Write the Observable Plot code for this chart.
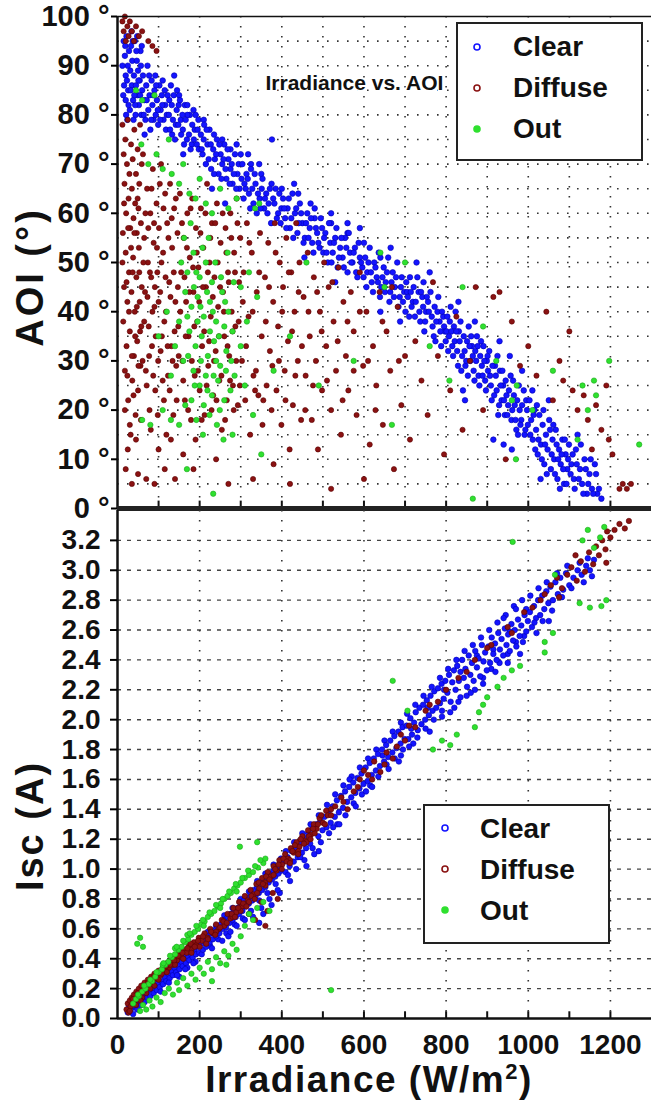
<!DOCTYPE html>
<html>
<head>
<meta charset="utf-8">
<script src="https://cdn.jsdelivr.net/npm/d3@7"></script>
<script src="https://cdn.jsdelivr.net/npm/@observablehq/plot@0.6"></script>
<style>
  html, body { margin: 0; padding: 0; background: #fff; }
  #wrap { position: relative; width: 651px; height: 1111px; overflow: hidden; font-family: "Liberation Sans", Arial, sans-serif; }
  #top, #bot { position: absolute; left: 0; }
  #top { top: 0; }
  #bot { top: 508px; }
  .lab { position: absolute; font-weight: bold; color: #111; white-space: nowrap; }
</style>
</head>
<body>
<div id="wrap">
  <div id="top"></div>
  <div id="bot"></div>
  <div class="lab" id="ylab1" style="font-size:38px;letter-spacing:3px;left:30px;top:277px;transform:translate(-50%,-50%) rotate(-90deg);">AOI (°)</div>
  <div class="lab" id="ylab2" style="font-size:38px;letter-spacing:2px;left:30px;top:826px;transform:translate(-50%,-50%) rotate(-90deg);">Isc (A)</div>
  <div class="lab" id="xlab" style="font-size:37px;letter-spacing:1.5px;left:369px;top:1080px;transform:translate(-50%,-50%);">Irradiance (W/m<sup style="font-size:22px;">2</sup>)</div>
  <svg id="legend" width="651" height="1111" style="position:absolute;left:0;top:0;pointer-events:none;"></svg>
</div>
<script>
// ---------- categories, colours, ticks ----------
const categories = ["Clear", "Diffuse", "Out"];
const colors = ["#1414ff", "#8a1212", "#2fe02f"];
const strokes = ["#0000b0", "#5a0000", "#1aa81a"];
const chartTitle = "Irradiance vs. AOI";
const xTickLabels = [0, 200, 400, 600, 800, 1000, 1200];
const xMinorTicks = [100, 200, 300, 400, 500, 600, 700, 800, 900, 1000, 1100, 1200];
const aoiTicks = [0, 10, 20, 30, 40, 50, 60, 70, 80, 90, 100];
const aoiGrid = [5, 10, 15, 20, 25, 30, 35, 40, 45, 50, 55, 60, 65, 70, 75, 80, 85, 90, 95];
const iscTicks = [0, 0.2, 0.4, 0.6, 0.8, 1.0, 1.2, 1.4, 1.6, 1.8, 2.0, 2.2, 2.4, 2.6, 2.8, 3.0, 3.2];
const iscGrid = [0.2, 0.4, 0.6, 0.8, 1.0, 1.2, 1.4, 1.6, 1.8, 2.0, 2.2, 2.4, 2.6, 2.8, 3.0, 3.2];

// ---------- top panel: [irradiance, AOI] ----------
const aoiClear = [
[15,95],[18,92],[20,88],[22,96],[25,90],[26,85],[28,93],[30,81],[31,89],[33,94],[35,86],[36,91],[38,83],[40,88],[42,95],[44,80],[45,86],[47,91],[49,84],[50,89],[52,82],[54,87],[56,93],[58,80],[60,85],[20,83],[24,79],[34,97],[12,90],[16,86],[43,82],[57,90],
[14,84],[19,94],[23,87],[27,82],[32,85],[37,95],[41,84],[46,93],[51,87],[55,84],[59,94],[21,80],[39,79],[48,96],
[62,88],[65,83],[68,79],[70,86],[73,90],[75,81],[78,84],[80,77],[83,87],[85,82],[88,79],[90,85],[93,80],[96,83],[99,78],[102,86],[105,81],[108,84],[112,79],[116,82],[118,77],[66,76],[92,88],[110,87],
[64,80],[71,83],[77,88],[82,79],[87,84],[94,86],[98,81],[104,79],[109,82],[115,85],[120,80],[126,83],[133,76],[137,84],[142,78],[149,82],[154,79],[159,77],[164,82],[169,75],[176,80],[181,74],[188,77],[193,74],[197,79],
[130,86],[150,84],[170,80],[185,81],[210,79],[235,76],[255,75],[275,73],[300,72],[325,70],[350,68],[375,66],[400,65],[440,64],[480,61],[520,58],[560,56],[600,54],[640,51],
[122,84],[125,80],[128,77],[132,82],[135,79],[138,88],[140,75],[144,81],[148,78],[152,83],[155,76],[158,80],[162,74],[166,79],[170,82],[174,76],[178,73],[182,78],[186,75],[190,80],[195,77],[198,73],[160,72],[145,85],
[203,76],[207,72],[211,78],[215,70],[219,74],[224,77],[228,69],[233,73],[237,71],[242,75],[246,68],[251,72],[255,70],[260,74],[265,67],[270,71],[275,69],[280,66],[286,72],[292,68],[297,65],[230,65],[262,62],[290,74],
[205,73],[210,75],[217,77],[222,71],[227,74],[235,68],[240,72],[248,74],[253,67],[258,71],[263,69],[268,73],[273,66],[278,70],[283,68],[289,65],[295,70],[302,67],[307,63],[312,65],[317,67],[323,61],[328,65],[334,68],[339,60],[346,63],[351,65],[357,61],[362,64],[368,62],[374,58],[379,63],[385,65],[391,60],[397,58],
[304,70],[309,66],[314,68],[320,64],[325,69],[331,62],[336,66],[342,64],[348,61],[353,67],[359,63],[365,60],[371,65],[376,75],[382,62],[388,59],[394,64],[399,61],[345,70],[318,72],
[403,63],[408,59],[414,61],[420,57],[426,64],[432,60],[438,56],[444,62],[450,58],[456,55],[462,60],[468,57],[474,54],[480,59],[486,56],[492,53],[498,57],[430,66],[470,62],[455,51],
[406,61],[411,57],[417,63],[423,59],[428,55],[435,61],[441,58],[447,60],[453,54],[459,58],[465,55],[471,59],[477,52],[483,57],[489,54],[495,59],[501,52],[506,56],[512,50],[518,54],[524,52],[530,55],[536,49],[542,53],[548,51],[554,55],[560,48],[566,52],[572,50],[578,53],[584,47],[590,51],[596,49],
[503,55],[509,52],[515,58],[521,50],[527,54],[533,57],[539,51],[545,55],[551,49],[557,53],[563,56],[569,50],[575,52],[581,48],[587,54],[593,50],[599,47],[520,60],[560,58],[590,57],[530,46],
[603,51],[608,48],[614,53],[619,46],[625,50],[631,47],[636,52],[642,45],[648,49],[653,46],[659,51],[664,44],[670,48],[675,45],[681,50],[687,43],[692,47],[698,44],[640,40],[665,53],[688,38],
[606,45],[611,50],[617,48],[622,44],[628,49],[634,46],[639,43],[645,47],[651,44],[656,48],[662,42],[667,46],[673,43],[678,47],[684,41],[690,45],[695,42],[701,40],[705,44],[710,39],[714,44],[719,42],[724,39],[733,44],[737,38],[742,43],[747,36],[751,40],[756,42],[765,39],[774,34],[779,40],[784,38],[788,33],[793,39],[797,36],
[703,46],[707,43],[712,47],[716,41],[721,45],[726,42],[730,47],[735,40],[739,44],[744,41],[749,38],[753,43],[758,40],[762,44],[767,37],[772,41],[776,38],[781,43],[786,36],[790,40],[795,37],[799,34],[745,46],[770,35],[728,50],[760,48],
[803,39],[807,35],[811,41],[815,33],[819,37],[823,40],[827,32],[831,36],[835,38],[839,31],[843,35],[847,29],[851,34],[855,37],[859,30],[863,33],[867,28],[871,32],[875,35],[879,27],[883,31],[887,29],[891,33],[895,26],[899,30],[841,24],[846,22],[830,42],[870,38],
[801,36],[805,32],[809,38],[813,36],[817,31],[821,34],[825,36],[829,29],[833,34],[837,28],[845,32],[849,30],[853,27],[857,33],[861,35],[865,31],[869,26],[873,30],[877,33],[881,25],[885,34],[889,27],[893,30],[897,24],
[901,31],[907,27],[911,22],[919,29],[923,24],[927,19],[931,28],[935,22],[939,25],[943,19],[947,23],[951,21],[959,18],[963,26],[967,21],[971,16],[979,20],[983,18],[991,15],[995,22],[999,17],
[902,28],[905,32],[909,25],[913,29],[917,23],[921,27],[925,31],[929,21],[933,25],[937,28],[941,22],[945,26],[949,19],[953,24],[957,27],[961,20],[965,23],[969,18],[973,22],[977,25],[981,17],[985,21],[989,24],[993,16],[997,20],[915,14],[940,13],[960,12],[975,15],[930,34],[955,31],[985,28],
[1003,22],[1007,18],[1011,14],[1015,20],[1019,16],[1023,11],[1027,19],[1031,13],[1035,17],[1039,9],[1043,15],[1047,12],[1051,18],[1055,8],[1059,14],[1063,10],[1067,16],[1071,6],[1075,12],[1079,9],[1083,14],[1087,5],[1091,11],[1095,8],[1099,13],[1010,24],[1050,22],[1030,6],
[1005,15],[1013,19],[1017,12],[1021,21],[1025,14],[1033,10],[1037,20],[1041,13],[1045,7],[1053,16],[1057,11],[1061,17],[1065,7],[1069,13],[1073,10],[1077,4],[1081,11],[1085,8],[1089,14],[1093,5],[1097,10],[1105,9],[1111,6],[1116,12],[1126,8],[1131,5],[1137,10],[1143,3],[1149,7],[1155,4],[1162,9],[1168,3],
[1103,7],[1108,11],[1113,4],[1118,9],[1123,6],[1128,13],[1134,3],[1140,8],[1146,5],[1152,10],[1158,3],[1165,7],[1172,4],[1178,2],[1120,15]
];
const aoiDiffuse = [
[12,99],[15,97],[18,100],[20,95],[24,98],[27,96],[30,99],[35,97],[40,95],[45,98],[52,96],[60,97],[75,95],[85,94],[95,93],
[12,78],[15,72],[17,66],[19,75],[21,60],[23,70],[25,79],[27,63],[29,68],[31,57],[33,74],[35,65],[37,71],[39,59],[41,77],[43,62],[45,68],[47,56],[49,73],[51,61],[53,66],[55,78],[57,58],[59,70],
[12,50],[14,38],[16,45],[18,28],[20,52],[22,33],[24,42],[26,22],[28,48],[30,36],[32,15],[34,44],[36,26],[38,51],[40,31],[42,40],[44,19],[46,47],[48,34],[50,24],[52,53],[54,42],[56,29],[58,37],[20,8],[35,5],[50,7],[25,12],
[13,56],[16,62],[18,20],[22,46],[24,27],[26,57],[28,40],[30,17],[33,53],[35,31],[37,48],[39,23],[41,56],[43,35],[45,14],[47,41],[49,63],[51,29],[53,48],[55,36],[57,18],[59,45],
[62,72],[65,55],[67,44],[69,28],[72,65],[74,50],[76,37],[78,20],[80,60],[82,47],[84,33],[86,69],[88,54],[90,41],[92,24],[95,62],[97,48],[99,30],[101,57],[104,44],[106,70],[108,35],[111,52],[113,22],[116,64],[118,40],[121,58],[123,27],[126,46],[128,66],[131,33],[133,53],[136,19],[138,61],[141,42],[143,29],[146,56],[148,37],[70,6],[90,5],[115,8],[140,6],[100,12],[130,14],
[61,30],[63,50],[65,38],[68,60],[71,25],[73,43],[75,57],[77,31],[79,48],[81,16],[83,65],[85,40],[87,27],[89,58],[91,45],[93,35],[96,53],[98,19],[100,42],[103,66],[105,32],[107,50],[110,26],[112,61],[114,38],[117,47],[119,15],[122,33],[124,55],[127,24],[129,43],[132,59],[134,30],[137,48],[139,36],[142,63],[144,22],[147,45],[149,31],
[152,64],[155,48],[158,30],[161,55],[164,22],[167,42],[170,60],[173,35],[176,51],[179,18],[182,63],[185,44],[188,27],[191,57],[194,38],[197,49],[200,24],[203,61],[206,33],[209,53],[212,19],[215,45],[218,66],[221,29],[224,50],[227,39],[230,58],[233,23],[236,47],[239,32],[242,62],[245,41],[248,26],[251,54],[254,16],[257,44],[260,35],[263,57],[266,22],[269,48],[272,31],[275,60],[278,40],[281,25],[284,52],[287,37],[290,63],[293,21],[296,46],[299,55],[185,8],[240,10],[270,5],[160,11],
[153,40],[157,58],[160,26],[163,47],[166,35],[169,53],[172,20],[175,44],[178,61],[181,30],[184,49],[187,37],[190,14],[193,52],[196,28],[199,42],[202,56],[205,18],[208,45],[211,36],[214,60],[217,25],[220,48],[223,34],[226,55],[229,20],[232,43],[235,30],[238,58],[241,22],[244,50],[247,35],[250,45],[253,27],[256,60],[259,40],[262,18],[265,52],[268,33],[271,46],[274,26],[277,55],[280,36],[283,20],[286,48],[289,30],[292,58],[295,38],[298,25],
[303,30],[307,48],[311,22],[315,58],[319,39],[323,15],[327,52],[331,27],[335,24],[339,44],[343,23],[347,56],[351,35],[355,22],[359,47],[363,25],[367,54],[371,32],[375,20],[379,42],[383,58],[387,24],[391,37],[395,50],[399,17],[403,45],[407,28],[411,55],[415,34],[419,12],[423,48],[427,21],[431,40],[435,58],[439,30],[443,50],[447,18],[330,6],[380,9],[420,5],
[305,42],[313,33],[321,54],[329,40],[337,28],[345,48],[353,17],[361,38],[369,45],[377,29],[385,52],[393,30],[401,40],[409,22],[417,48],[425,36],[433,27],[441,44],[449,33],[457,20],[465,40],[476,25],[486,44],[497,36],[510,26],[523,46],[536,34],[548,22],[560,38],[575,28],[590,40],[610,30],[628,20],[645,38],[668,45],[685,30],
[453,43],[458,27],[463,52],[468,35],[473,18],[478,47],[483,30],[488,12],[493,40],[498,24],[503,50],[508,33],[514,45],[520,20],[526,38],[532,28],[538,49],[544,15],[550,42],[556,31],[562,24],[568,44],[575,36],[582,19],[590,48],[598,29],[606,40],[614,13],[622,33],[630,25],[638,44],[646,17],[655,36],[664,28],[673,8],[682,41],[691,21],[700,31],[520,4],[600,6],
[712,14],[725,34],[740,26],[755,19],[768,46],[780,31],[795,11],[810,24],[825,39],[840,16],[858,30],[872,45],[890,20],[915,43],[930,44],[945,10],[960,38],[980,29],[1000,33],[1020,27],[1044,40],[1060,22],[1076,30],[1085,26],[1100,36],[1108,24],[1120,20],[1135,23],[1145,18],[1155,12],[1165,21],[1178,16],[1190,25],[1205,11],[1222,4],[1230,5],[1240,4],[1250,5],[1196,14]
];
const aoiOut = [
[45,85],[60,83],[90,84],[58,74],[75,70],[95,72],[110,69],[125,75],[132,68],[150,66],[160,70],[175,64],[190,63],[200,67],[215,62],[230,60],[250,65],[270,61],[290,63],[335,61],[345,62],
[155,50],[170,48],[185,52],[200,47],[215,50],[230,46],[165,44],[180,41],[195,43],[210,39],[225,42],[240,38],[255,44],[270,40],[175,36],[190,33],[205,35],[220,31],[235,34],[250,29],[265,32],[280,36],[185,28],[200,25],[215,27],[230,23],[245,26],[260,22],[275,24],[195,38],[240,30],[210,21],[180,22],[225,36],[260,37],[160,30],[150,38],[140,33],[130,27],[120,40],[100,35],
[162,55],[178,58],[192,48],[207,53],[222,55],[238,50],[252,47],[268,52],[283,46],[170,39],[186,45],[202,41],[218,44],[232,40],[247,35],[262,42],[277,30],[172,31],[188,25],[203,30],[219,24],[234,27],[249,20],[264,28],[192,18],[208,15],[224,19],[242,17],[258,14],[285,27],[300,33],[315,38],
[110,20],[130,18],[150,17],[165,21],[60,18],[80,17],[300,45],[320,48],[340,43],[310,25],[350,11],[330,19],[169,8],[233,3],[280,15],[380,28],[420,35],[460,50],
[490,25],[575,30],[640,52],[650,45],[668,17],[760,33],[808,26],[840,45],[922,30],[972,25],[960,22],[1060,28],[1132,25],[1145,20],[1160,26],[1165,23],[1197,30],[1270,13],[970,10],[1120,14],[865,2],[700,50],[890,37],[1010,20]
];

// ---------- bottom panel: [irradiance, Isc] ----------
const iscClear = [
[25,0.04],[28,0.08],[30,0.05],[33,0.1],[35,0.07],[38,0.03],[40,0.11],[43,0.08],[46,0.12],[48,0.06],[51,0.1],[54,0.14],[57,0.09],[60,0.13],[63,0.16],[66,0.11],[70,0.17],[73,0.14],[77,0.19],[80,0.15],[84,0.2],[88,0.17],[92,0.22],[96,0.19],[99,0.24],
[103,0.21],[107,0.25],[111,0.23],[115,0.28],[119,0.25],[123,0.3],[127,0.27],[131,0.32],[135,0.29],[139,0.34],[143,0.31],[147,0.36],[151,0.33],[155,0.38],[159,0.35],[163,0.4],[167,0.37],[171,0.42],[175,0.39],[179,0.43],[183,0.41],[187,0.46],[191,0.43],[195,0.48],[199,0.44],[150,0.28],[170,0.34],[190,0.38],
[105,0.18],[125,0.24],[145,0.29],[165,0.33],[185,0.37],[205,0.43],[225,0.49],[245,0.53],[265,0.57],[285,0.63],[305,0.67],[325,0.72],[345,0.79],[365,0.84],[385,0.9],[120,0.32],[140,0.37],[160,0.42],[180,0.47],[200,0.51],[220,0.58],[240,0.62],[260,0.69],[280,0.74],[300,0.8],[320,0.85],[340,0.92],[360,0.97],[380,1.03],[398,1.07],[270,0.55],[310,0.66],[355,0.7],[375,0.76],[395,0.84],
[204,0.5],[208,0.46],[212,0.52],[216,0.48],[220,0.55],[224,0.51],[228,0.57],[232,0.53],[236,0.59],[240,0.55],[244,0.61],[248,0.57],[252,0.63],[256,0.6],[260,0.66],[264,0.61],[268,0.68],[272,0.64],[276,0.7],[280,0.66],[284,0.72],[288,0.68],[292,0.74],[296,0.7],[300,0.76],[230,0.47],[255,0.52],[275,0.58],[290,0.62],
[304,0.72],[308,0.79],[312,0.75],[316,0.81],[320,0.77],[324,0.84],[328,0.79],[332,0.86],[336,0.82],[340,0.88],[344,0.84],[348,0.9],[352,0.86],[356,0.93],[360,0.88],[364,0.95],[368,0.91],[372,0.97],[376,0.93],[380,0.99],[384,0.95],[388,1.01],[392,0.97],[396,1.04],[399,0.99],[330,0.68],[350,0.74],[370,0.8],[390,0.86],[345,0.64],
[404,1.05],[409,0.98],[414,1.08],[419,1.02],[424,1.12],[429,1.05],[434,1.14],[439,1.08],[444,1.18],[449,1.11],[454,1.21],[459,1.14],[464,1.24],[469,1.17],[474,1.27],[479,1.1],[484,1.3],[489,1.22],[494,1.32],[499,1.26],[420,0.92],[460,1.02],[490,1.12],
[410,1.12],[430,1.18],[450,1.24],[470,1.3],[490,1.36],[510,1.43],[530,1.5],[550,1.56],[570,1.62],[590,1.68],[610,1.74],[630,1.8],[650,1.86],[670,1.92],[690,1.98],[415,0.96],[435,1.0],[455,1.06],[475,1.14],[495,1.18],[515,1.24],[535,1.3],[555,1.36],[575,1.44],[595,1.5],[615,1.56],[635,1.62],[655,1.7],[675,1.74],[695,1.8],[445,1.08],[525,1.28],[605,1.52],[685,1.72],[565,1.6],[645,1.76],
[504,1.35],[509,1.28],[514,1.39],[519,1.31],[524,1.42],[529,1.35],[534,1.46],[539,1.38],[544,1.49],[549,1.41],[554,1.52],[559,1.45],[564,1.55],[569,1.48],[574,1.58],[579,1.51],[584,1.61],[589,1.54],[594,1.64],[599,1.57],[540,1.3],[580,1.42],
[604,1.68],[609,1.59],[614,1.71],[619,1.63],[624,1.74],[629,1.66],[634,1.77],[639,1.69],[644,1.8],[649,1.72],[654,1.83],[659,1.75],[664,1.86],[669,1.78],[674,1.89],[679,1.81],[684,1.92],[689,1.84],[694,1.95],[699,1.87],[620,1.55],[660,1.67],[690,1.76],
[704,1.96],[708,1.87],[713,2.01],[717,1.9],[722,1.98],[726,2.05],[731,1.93],[735,2.08],[740,1.97],[744,2.1],[749,2.0],[753,2.13],[758,2.03],[762,2.16],[767,2.06],[771,2.19],[776,2.08],[780,2.21],[785,2.11],[789,2.24],[794,2.14],[798,2.26],[720,1.84],[760,1.92],[790,2.02],
[705,2.04],[725,2.1],[745,2.16],[765,2.22],[785,2.28],[805,2.34],[825,2.4],[845,2.46],[865,2.5],[885,2.55],[905,2.6],[925,2.65],[945,2.7],[965,2.76],[985,2.8],[710,1.82],[730,1.88],[750,1.94],[770,2.0],[790,2.06],[810,2.05],[830,2.12],[850,2.16],[870,2.2],[890,2.28],[910,2.34],[930,2.38],[950,2.44],[970,2.52],[990,2.56],[715,1.94],[755,2.08],[795,2.2],[835,2.32],[875,2.43],[915,2.47],[955,2.59],[995,2.74],
[803,2.18],[807,2.3],[811,2.12],[815,2.25],[819,2.33],[823,2.2],[827,2.36],[831,2.26],[835,2.15],[839,2.4],[843,2.28],[847,2.34],[851,2.22],[855,2.43],[859,2.3],[863,2.38],[867,2.26],[871,2.46],[875,2.35],[879,2.41],[883,2.29],[887,2.5],[891,2.39],[895,2.45],[899,2.33],[820,2.08],[860,2.18],[890,2.24],
[903,2.49],[907,2.38],[911,2.55],[915,2.44],[919,2.51],[923,2.4],[927,2.58],[931,2.47],[935,2.54],[939,2.43],[943,2.61],[947,2.5],[951,2.57],[955,2.46],[959,2.64],[963,2.53],[967,2.6],[971,2.49],[975,2.67],[979,2.56],[983,2.63],[987,2.52],[991,2.7],[995,2.59],[999,2.66],[920,2.32],[950,2.38],[980,2.44],[940,2.68],[970,2.74],
[1004,2.72],[1009,2.62],[1014,2.76],[1019,2.68],[1024,2.8],[1029,2.7],[1034,2.83],[1039,2.74],[1044,2.86],[1049,2.78],[1054,2.89],[1060,2.8],[1066,2.92],[1072,2.84],[1078,2.95],[1085,2.87],[1092,2.98],[1100,2.9],[1110,2.95],[1120,3.0],[1130,2.97],[1141,3.03],[1150,3.0],[1160,3.07],[1020,2.58],[1050,2.66],
[1005,2.83],[1015,2.65],[1025,2.88],[1035,2.66],[1045,2.92],[1058,2.73],[1070,2.98],[1082,2.82],[1095,3.03],[1105,2.88],[1125,3.05],[1135,2.92],[1145,3.08],[1155,2.96]
];
const iscDiffuse = [
[22,0.06],[25,0.1],[27,0.04],[30,0.12],[32,0.08],[35,0.14],[37,0.1],[40,0.16],[43,0.12],[46,0.18],[49,0.14],[52,0.2],[55,0.16],[58,0.22],[62,0.19],[66,0.24],[70,0.21],[74,0.26],[78,0.23],[82,0.28],[86,0.25],[90,0.3],[95,0.27],[100,0.32],[105,0.29],[110,0.34],[115,0.32],[120,0.37],[125,0.34],[130,0.39],[135,0.36],[140,0.41],[145,0.39],[150,0.44],[156,0.41],[162,0.46],[168,0.44],[174,0.49],[180,0.46],[186,0.51],[192,0.49],[198,0.54],[205,0.52],[212,0.57],[219,0.54],[226,0.6],[233,0.57],[240,0.63],[247,0.6],[254,0.66],[261,0.63],[268,0.7],[275,0.67],[282,0.74],[289,0.71],[296,0.78],[303,0.75],[310,0.82],[317,0.79],[324,0.86],[331,0.83],[338,0.9],[345,0.87],[352,0.94],[359,0.91],[366,0.98],[373,0.95],[380,1.02],[387,0.99],[394,1.06],[401,1.03],[408,1.1],[415,1.07],[422,1.14],[429,1.11],[436,1.18],[443,1.15],[450,1.22],[457,1.19],[464,1.26],[471,1.23],[478,1.3],[485,1.27],[492,1.34],[500,1.31],[508,1.39],
[60,0.14],[80,0.2],[100,0.26],[120,0.31],[140,0.36],[160,0.4],[180,0.44],[200,0.48],[220,0.53],[240,0.58],[260,0.62],[280,0.68],[300,0.72],[320,0.78],[340,0.84],[360,0.89],[380,0.96],[400,1.0],[420,1.06],[440,1.12],[460,1.18],[480,1.24],[45,0.09],[70,0.17],[90,0.22],
[30,0.05],[38,0.13],[50,0.17],[56,0.12],[65,0.19],[75,0.24],[85,0.27],[95,0.3],[108,0.3],[118,0.35],[128,0.36],[138,0.39],[148,0.42],[158,0.44],[170,0.47],[178,0.5],[188,0.48],[196,0.52],[208,0.55],[216,0.5],[228,0.58],[238,0.56],[250,0.61],[258,0.65],[266,0.64],[278,0.7],[286,0.68],[294,0.74],[306,0.77],[314,0.75],[326,0.82],[334,0.8],[344,0.91],[354,0.9],[362,0.95],[370,0.93],[384,1.0],[392,1.03],[404,1.07],[412,1.05],[426,1.12],[432,1.16],[446,1.2],[454,1.17],[466,1.22],[476,1.27],[488,1.3],[496,1.36],[512,1.36],[520,1.4],
[320,0.7],[335,0.66],[350,0.78],[365,0.72],[378,0.84],[390,0.8],[360,0.62],
[530,1.42],[545,1.48],[560,1.4],[575,1.52],[590,1.6],[610,1.63],[625,1.72],[640,1.65],[655,1.78],[670,1.74],[690,1.9],[710,1.96],[750,2.06],[780,2.12],[830,2.28],[870,2.4],[910,2.5],[950,2.62],[990,2.72],
[420,1.04],[440,1.1],[470,1.2],[505,1.3],[520,1.36],[550,1.45],[585,1.55],[600,1.66],[620,1.6],[650,1.7],[680,1.82],[700,1.86],[725,1.95],[760,2.1],[800,2.2],[850,2.32],[900,2.48],[960,2.58],[1010,2.75],[1030,2.8],
[1040,2.84],[1055,2.9],[1070,2.95],[1082,2.88],[1095,2.97],[1105,3.02],[1118,2.93],[1128,3.06],[1138,2.99],[1148,3.12],[1158,3.04],[1165,3.16],[1172,3.1],[1180,3.2],[1188,3.14],[1192,3.26],[1200,3.22],[1210,3.27],[1222,3.31],[1235,3.28],[1245,3.33],[1115,3.1],[1075,2.82],[1190,3.05]
];
const iscOut = [
[38,0.1],[45,0.13],[52,0.15],[60,0.18],[68,0.2],[76,0.23],[84,0.25],[92,0.28],[100,0.31],[108,0.33],[116,0.36],[124,0.38],[132,0.41],[140,0.43],[148,0.46],[156,0.48],[164,0.51],[172,0.53],[180,0.56],[188,0.58],[196,0.6],[204,0.63],[212,0.65],[220,0.68],[228,0.7],[236,0.72],[244,0.75],[252,0.77],[260,0.8],[268,0.82],[276,0.84],[284,0.87],[292,0.89],[300,0.91],[310,0.94],[320,0.96],[330,0.98],[342,1.01],[355,1.04],[170,0.56],[210,0.62],[250,0.74],[290,0.85],[140,0.47],[110,0.36],
[50,0.16],[65,0.22],[80,0.26],[95,0.31],[112,0.37],[128,0.42],[144,0.48],[160,0.52],[176,0.57],[192,0.62],[208,0.66],[224,0.71],[240,0.76],[256,0.8],[272,0.85],[288,0.9],[304,0.94],[318,0.99],[335,1.02],[348,1.06],[360,1.07],
[55,0.05],[62,0.09],[70,0.06],[78,0.12],[85,0.08],[95,0.14],[105,0.11],[115,0.17],[125,0.2],[135,0.16],[145,0.24],[150,0.19],[160,0.27],[170,0.22],[180,0.3],[190,0.26],[200,0.34],[210,0.3],[220,0.38],[230,0.33],[240,0.41],[250,0.37],[260,0.45],[270,0.42],[280,0.5],[290,0.46],[300,0.55],[310,0.62],[320,0.7],[330,0.66],[340,0.74],[355,0.78],[370,0.72],[48,0.5],[55,0.54],[62,0.48],[298,1.15],[340,1.18],[520,0.19],[230,0.25],[265,0.36],
[670,2.26],[706,2.06],[768,1.8],[790,1.86],[810,1.83],[826,1.9],[870,1.95],[880,2.05],[890,2.1],[900,2.15],[925,2.22],[940,2.28],[960,2.33],[980,2.36],[1040,2.52],[1060,2.58],[1065,2.97],[962,3.19],[1132,3.2],[1145,3.27],[1160,3.15],[1175,3.22],[1185,3.29],[1125,2.78],[1150,2.75],[1178,2.76],[1190,2.8],[1040,2.45]
];

// ---------- drawing ----------
const FONT = "'Liberation Sans', Arial, sans-serif";
const xDomain = [0, 1300];
const dots = (data, i, r) => Plot.dot(data, {
  x: d => d[0], y: d => d[1], r,
  fill: colors[i], stroke: strokes[i], strokeWidth: 0.6
});

const topPlot = Plot.plot({
  width: 651, height: 512,
  marginLeft: 117, marginRight: 0, marginTop: 16, marginBottom: 4,
  style: {background: "transparent", overflow: "visible", fontFamily: FONT},
  x: {domain: xDomain, axis: null},
  y: {domain: [0, 100], axis: null},
  marks: [
    Plot.ruleY(aoiGrid, {y: d => d, stroke: "#333", strokeWidth: 1.6, strokeDasharray: "1.6,8.4"}),
    Plot.ruleX(xMinorTicks, {x: d => d, stroke: "#333", strokeWidth: 1.6, strokeDasharray: "1.6,8.4"}),
    dots(aoiClear, 0, 2.8),
    dots(aoiDiffuse, 1, 2.6),
    dots(aoiOut, 2, 2.7),
    Plot.text([chartTitle], {frameAnchor: "top-left", dx: 148, dy: 67, lineAnchor: "middle",
      fontSize: 21, fontWeight: "bold", fill: "#111", stroke: "white", strokeWidth: 3, paintOrder: "stroke"}),
    Plot.ruleX(xMinorTicks, {x: d => d, y1: 0, y2: 1.5, stroke: "#111", strokeWidth: 2}),
    Plot.ruleY([100], {stroke: "#111", strokeWidth: 1.5}),
    Plot.ruleX([0], {stroke: "#111", strokeWidth: 2.5}),
    Plot.ruleY([0], {stroke: "#222", strokeWidth: 5}),
    Plot.axisY(aoiTicks, {anchor: "left", tickSize: 6, tickPadding: 2, strokeWidth: 2,
      tickFormat: d => d + " °", fontSize: 29, fontWeight: "bold", fill: "#111", label: null})
  ]
});
document.getElementById("top").appendChild(topPlot);

const botPlot = Plot.plot({
  width: 651, height: 603,
  marginLeft: 117, marginRight: 0, marginTop: 2, marginBottom: 93,
  style: {background: "transparent", overflow: "visible", fontFamily: FONT},
  x: {domain: xDomain, axis: null},
  y: {domain: [0, 3.4], axis: null},
  marks: [
    Plot.ruleY(iscGrid, {y: d => d, stroke: "#444", strokeWidth: 1.4, strokeDasharray: "4,6"}),
    Plot.ruleX(xTickLabels.filter(d => d > 0), {x: d => d, stroke: "#333", strokeWidth: 1.6, strokeDasharray: "1.6,8.4"}),
    dots(iscClear, 0, 2.8),
    dots(iscDiffuse, 1, 2.7),
    dots(iscOut, 2, 2.7),
    Plot.ruleX(xMinorTicks, {x: d => d, y1: 0, y2: 0.045, stroke: "#111", strokeWidth: 2}),
    Plot.ruleY([0], {stroke: "#111", strokeWidth: 2.5}),
    Plot.ruleX([0], {stroke: "#111", strokeWidth: 2.5}),
    Plot.axisY(iscTicks, {anchor: "left", tickSize: 7, tickPadding: 10, strokeWidth: 2,
      tickFormat: d => d.toFixed(1), fontSize: 28, fontWeight: "bold", fill: "#111", label: null}),
    Plot.axisX(xTickLabels, {anchor: "bottom", tickSize: 0, tickPadding: 16,
      tickFormat: d => String(d), fontSize: 28, fontWeight: "bold", fill: "#111", label: null})
  ]
});
document.getElementById("bot").appendChild(botPlot);

// ---------- legends ----------
const leg = d3.select("#legend");
function legend(x, y, w, h, mx, tx, my0, ty0, step, fs) {
  const g = leg.append("g");
  g.append("rect").attr("x", x).attr("y", y).attr("width", w).attr("height", h)
    .attr("fill", "white").attr("stroke", "#222").attr("stroke-width", 2);
  categories.forEach((c, i) => {
    g.append("circle").attr("cx", mx).attr("cy", my0 + i * step).attr("r", 3)
      .attr("fill", i === 2 ? colors[i] : "white").attr("stroke", colors[i]).attr("stroke-width", 1.6);
    g.append("text").attr("x", tx).attr("y", ty0 + i * step).text(c)
      .attr("font-family", FONT).attr("font-weight", "bold").attr("font-size", fs).attr("fill", "#111");
  });
}
legend(457, 23, 185, 137, 477, 513, 47, 56, 41, 28);
legend(424, 805, 185, 138, 445, 480, 828, 838, 41, 28);
</script>
</body>
</html>
